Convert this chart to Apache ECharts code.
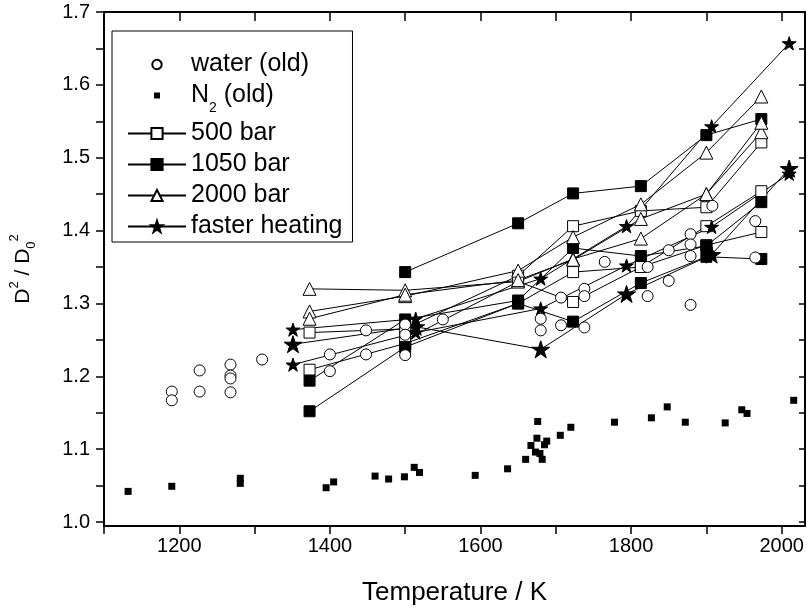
<!DOCTYPE html>
<html>
<head>
<meta charset="utf-8">
<script src="https://cdn.jsdelivr.net/npm/echarts@6/dist/echarts.min.js"></script>
<style>
    html, body { margin: 0; padding: 0; background: #fff; }
    #chart { width: 808px; height: 611px; }
</style>
</head>
<body>
<div id="chart"></div>
<script>
// tick values
const xTicks = [1100, 1200, 1300, 1400, 1500, 1600, 1700, 1800, 1900, 2000]
const xLabels = [1200, 1400, 1600, 1800, 2000]
const yTicks = [1.0, 1.05, 1.1, 1.15, 1.2, 1.25, 1.3, 1.35, 1.4, 1.45, 1.5, 1.55, 1.6, 1.65, 1.7]
const yLabels = [1.0, 1.1, 1.2, 1.3, 1.4, 1.5, 1.6, 1.7]

// water (old), open circles
const waterOld = [
    [1190, 1.179], [1190, 1.167], [1227, 1.208], [1227, 1.179], [1268, 1.216], [1268, 1.201],
    [1268, 1.197], [1268, 1.178], [1310, 1.223], [1400, 1.230], [1400, 1.207], [1448, 1.263],
    [1448, 1.230], [1500, 1.271], [1500, 1.257], [1500, 1.229], [1550, 1.278], [1680, 1.279],
    [1680, 1.263], [1707, 1.308], [1707, 1.270], [1738, 1.320], [1738, 1.310], [1738, 1.267],
    [1765, 1.357], [1822, 1.350], [1822, 1.310], [1850, 1.373], [1850, 1.331], [1879, 1.395],
    [1879, 1.381], [1879, 1.365], [1879, 1.298], [1908, 1.434], [1965, 1.413], [1965, 1.363]
]

// N2 (old), small filled squares
const n2Old = [
    [1132, 1.042], [1190, 1.049], [1281, 1.060], [1281, 1.053], [1395, 1.047], [1405, 1.055],
    [1460, 1.063], [1478, 1.059], [1499, 1.062], [1512, 1.075], [1519, 1.068], [1593, 1.064],
    [1636, 1.073], [1660, 1.086], [1667, 1.105], [1673, 1.096], [1675, 1.115], [1676, 1.138],
    [1679, 1.094], [1682, 1.086], [1685, 1.106], [1688, 1.111], [1706, 1.119], [1720, 1.130],
    [1778, 1.137], [1827, 1.143], [1848, 1.158], [1872, 1.137], [1925, 1.136], [1947, 1.154],
    [1954, 1.149], [2016, 1.167]
]

// 500 bar runs, open squares
const bar500RunA = [[1373, 1.260], [1500, 1.265], [1650, 1.338], [1723, 1.406], [1813, 1.427], [1900, 1.432], [1973, 1.521]]
const bar500RunB = [[1373, 1.209], [1500, 1.245], [1650, 1.300], [1723, 1.343], [1813, 1.350], [1900, 1.406], [1973, 1.454]]
const bar500RunC = [[1500, 1.250], [1650, 1.330], [1723, 1.302], [1813, 1.350], [1900, 1.380], [1973, 1.398]]

// 1050 bar runs, filled squares
const bar1050RunA = [[1500, 1.343], [1650, 1.410], [1723, 1.451], [1813, 1.461], [1900, 1.531], [1973, 1.553]]
const bar1050RunB = [[1373, 1.194], [1500, 1.278], [1650, 1.304], [1723, 1.376], [1813, 1.365], [1900, 1.379], [1973, 1.439]]
const bar1050RunC = [[1373, 1.152], [1500, 1.240], [1650, 1.300], [1723, 1.275], [1813, 1.328], [1900, 1.364], [1973, 1.361]]

// 2000 bar runs, open triangles
const bar2000RunA = [[1373, 1.320], [1500, 1.318], [1650, 1.330], [1723, 1.361], [1813, 1.389], [1900, 1.450], [1973, 1.535]]
const bar2000RunB = [[1373, 1.289], [1500, 1.310], [1650, 1.345], [1723, 1.391], [1813, 1.436], [1900, 1.507], [1973, 1.584]]
const bar2000RunC = [[1373, 1.279], [1500, 1.312], [1650, 1.332], [1723, 1.360], [1813, 1.416], [1900, 1.450], [1973, 1.548]]

// faster heating runs, stars
const fastRunA = [[1351, 1.264], [1514, 1.279], [1680, 1.334], [1794, 1.406], [1907, 1.543], [2010, 1.657]]
const fastRunB = [[1351, 1.244], [1514, 1.268], [1680, 1.237], [1794, 1.313], [1907, 1.367], [2010, 1.485]]
const fastRunC = [[1351, 1.216], [1514, 1.260], [1680, 1.293], [1794, 1.352], [1907, 1.405], [2010, 1.478]]

const STAR = 'path://M50,0L61.2,34.5L97.6,34.5L68.2,55.9L79.4,90.5L50,69.1L20.6,90.5L31.8,55.9L2.4,34.5L38.8,34.5Z'
// legend icons with empty margin so they come out small like the original
const ICON_CIRCLE = 'path://M0,0M14,14M7,2.3A4.7,4.7,0,1,1,6.99,2.3Z'
const ICON_SMALL_RECT = 'path://M0,0M14,14M4,4L10,4L10,10L4,10Z'
const FONT = 'Liberation Sans'

let chart = echarts.init(document.getElementById('chart'), null, {renderer: 'canvas'})

// one measured run, connected by a thin black line
function run(name, data, symbol, filled, size) {
    return {
        name: name,
        type: 'line',
        data: data,
        symbol: symbol,
        symbolSize: size,
        symbolKeepAspect: true,
        showSymbol: true,
        lineStyle: {color: '#000', width: 1},
        itemStyle: {
            color: filled ? '#000' : '#fff',
            borderColor: '#000',
            borderWidth: 1,
            opacity: 1
        },
        emphasis: {disabled: true}
    }
}

function frameAxis(position, isX, labels) {
    let axis = {
        type: 'value',
        position: position,
        min: isX ? 1100 : 0.9945,
        max: isX ? 2031 : 1.7,
        splitLine: {show: false},
        axisLine: {show: true, onZero: false, lineStyle: {color: '#000', width: 2}},
        axisTick: {
            show: true,
            inside: position === 'top' || position === 'right',
            length: position === 'right' ? 6 : (position === 'top' ? 9 : 8),
            customValues: isX ? xTicks : yTicks,
            lineStyle: {color: '#000', width: 1.5}
        },
        axisLabel: {show: false}
    }
    if (labels) {
        axis.axisLabel = {
            show: true,
            customValues: isX ? xLabels : yLabels,
            color: '#000',
            fontFamily: FONT,
            fontSize: 20,
            margin: isX ? 10 : 14,
            formatter: isX ? (v => String(v)) : (v => v.toFixed(1))
        }
    }
    return axis
}

let xBottom = frameAxis('bottom', true, true)
xBottom.name = 'Temperature / K'
xBottom.nameLocation = 'middle'
xBottom.nameGap = 54
xBottom.nameTextStyle = {color: '#000', fontFamily: FONT, fontSize: 26}

let yLeft = frameAxis('left', false, true)
yLeft.name = 'D{sup|2} / D{sub|0}{sup|2}'
yLeft.nameLocation = 'middle'
yLeft.nameRotate = 90
yLeft.nameGap = 66
yLeft.nameTextStyle = {
    color: '#000', fontFamily: FONT, fontSize: 21, lineHeight: 30,
    rich: {
        sup: {fontSize: 13, fontFamily: FONT, color: '#000', verticalAlign: 'top'},
        sub: {fontSize: 13, fontFamily: FONT, color: '#000', verticalAlign: 'bottom'}
    }
}

let option = {
    animation: false,
    backgroundColor: '#fff',
    grid: {left: 103, right: 3, top: 12, bottom: 83},
    xAxis: [xBottom, frameAxis('top', true, false)],
    yAxis: [yLeft, frameAxis('right', false, false)],
    legend: {
        orient: 'vertical',
        left: 112,
        top: 31,
        itemWidth: 58,
        itemHeight: 14,
        itemGap: 6,
        padding: [21, 10, 3, 15],
        borderColor: '#000',
        borderWidth: 1,
        borderRadius: 0,
        selectedMode: false,
        data: [
            {name: 'water (old)', icon: ICON_CIRCLE},
            {name: 'N2 (old)', icon: ICON_SMALL_RECT},
            '500 bar', '1050 bar', '2000 bar', 'faster heating'
        ],
        formatter: function (name) {
            return name === 'N2 (old)' ? 'N{sub|2} (old)' : name
        },
        textStyle: {
            color: '#000', fontFamily: FONT, fontSize: 25,
            rich: {sub: {fontSize: 14, fontFamily: FONT, color: '#000', verticalAlign: 'bottom', lineHeight: 39}}
        }
    },
    series: [
        {
            name: 'N2 (old)',
            type: 'scatter',
            data: n2Old,
            symbol: 'rect',
            symbolSize: 7,
            itemStyle: {color: '#000', opacity: 1},
            emphasis: {disabled: true}
        },
        run('500 bar', bar500RunA, 'rect', false, 11),
        run('500 bar', bar500RunB, 'rect', false, 11),
        run('500 bar', bar500RunC, 'rect', false, 11),
        run('1050 bar', bar1050RunA, 'rect', true, 11),
        run('1050 bar', bar1050RunB, 'rect', true, 11),
        run('1050 bar', bar1050RunC, 'rect', true, 11),
        run('2000 bar', bar2000RunA, 'triangle', false, 13),
        run('2000 bar', bar2000RunB, 'triangle', false, 13),
        run('2000 bar', bar2000RunC, 'triangle', false, 13),
        run('faster heating', fastRunA, STAR, true, 14),
        run('faster heating', fastRunB, STAR, true, 18),
        run('faster heating', fastRunC, STAR, true, 14),
        {
            name: 'water (old)',
            type: 'scatter',
            z: 3,
            data: waterOld,
            symbol: 'circle',
            symbolSize: 11,
            itemStyle: {color: '#fff', borderColor: '#000', borderWidth: 1, opacity: 1},
            emphasis: {disabled: true}
        }
    ]
}

chart.setOption(option)
</script>
</body>
</html>
